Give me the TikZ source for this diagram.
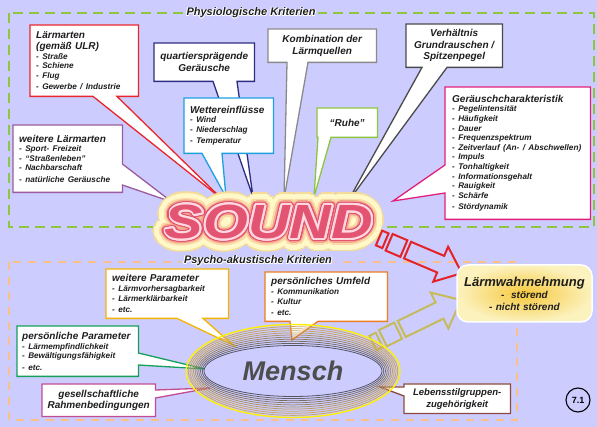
\documentclass[tikz,border=0pt]{standalone}
\usepackage{fontspec}
\setmainfont{Liberation Sans}
\usetikzlibrary{calc,shapes.geometric}
\setlength\parindent{0pt}
\definecolor{bg}{RGB}{204,204,255}
\definecolor{txt}{RGB}{30,30,30}
\definecolor{gDash}{RGB}{141,198,63}
\definecolor{oDash}{RGB}{250,192,140}
\definecolor{cRed}{RGB}{232,38,43}
\definecolor{cNavy}{RGB}{46,45,127}
\definecolor{cBlue}{RGB}{28,160,224}
\definecolor{cGray}{RGB}{138,138,138}
\definecolor{cGreen}{RGB}{140,198,63}
\definecolor{cDark}{RGB}{74,74,74}
\definecolor{cMag}{RGB}{226,32,124}
\definecolor{cPurp}{RGB}{155,91,158}
\definecolor{cYel}{RGB}{244,180,0}
\definecolor{cOr}{RGB}{239,125,34}
\definecolor{cGrn}{RGB}{19,160,90}
\definecolor{cPP}{RGB}{194,75,146}
\definecolor{cBrown}{RGB}{142,75,61}
\definecolor{aRed}{RGB}{228,34,40}
\definecolor{aKhaki}{RGB}{198,187,90}
\definecolor{sEdge}{RGB}{245,220,152}
\definecolor{sCream}{RGB}{255,248,200}
\definecolor{sPeachA}{RGB}{252,217,168}
\definecolor{sPeach}{RGB}{243,165,138}
\definecolor{sPink}{RGB}{226,84,114}
\definecolor{sLight}{RGB}{255,216,224}
\definecolor{rDark}{RGB}{85,85,100}
\definecolor{rTan}{RGB}{200,165,95}
\definecolor{rYel}{RGB}{255,240,0}
\definecolor{mText}{RGB}{77,77,77}
\definecolor{lwIn}{RGB}{246,200,60}
\definecolor{lwOut}{RGB}{252,242,190}

\pgfdeclarelayer{back}
\pgfdeclarelayer{boxes}
\pgfsetlayers{back,boxes,main}

\newcommand\hdsz{\fontsize{10}{11.5}\selectfont}
\newcommand\itsz{\fontsize{8.2}{9.6}\selectfont}
\newcommand\sndtxt{\scalebox{1.2}[1]{\fontsize{48}{50}\selectfont\bfseries\itshape SOUND}}

% callout outlines: name, colour, offset a, offset b, tip
\newcommand\cB[5]{\begin{pgfonlayer}{boxes}\draw[callout=#2] (#1.north west) -- (#1.north east) -- (#1.south east) -- ([xshift=#4pt]#1.south west) -- (#5) -- ([xshift=#3pt]#1.south west) -- (#1.south west) -- cycle;\end{pgfonlayer}}
\newcommand\cR[5]{\begin{pgfonlayer}{boxes}\draw[callout=#2] (#1.north west) -- (#1.north east) -- ([yshift=-#3pt]#1.north east) -- (#5) -- ([yshift=-#4pt]#1.north east) -- (#1.south east) -- (#1.south west) -- cycle;\end{pgfonlayer}}
\newcommand\cL[5]{\begin{pgfonlayer}{boxes}\draw[callout=#2] (#1.north west) -- (#1.north east) -- (#1.south east) -- (#1.south west) -- ([yshift=-#4pt]#1.north west) -- (#5) -- ([yshift=-#3pt]#1.north west) -- cycle;\end{pgfonlayer}}

\newcommand\halotitle[3]{%
  \node[ttl, fill=bg, text=bg] (#1) at #2 {#3};
  \foreach \a in {0,45,...,315} \node[ttl, text=white] at ($(#1)+(\a:0.8)$) {#3};
  \node[ttl, text=txt] (#1t) at (#1) {#3};}

\tikzset{
  cb/.style={anchor=north west, inner xsep=6pt, inner ysep=0pt, align=left,
    font=\bfseries\itshape\hdsz, text=txt},
  cc/.style={anchor=north west, inner xsep=3pt, inner ysep=0pt, align=center,
    font=\bfseries\itshape\fontsize{10}{12}\selectfont, text=txt},
  callout/.style={fill=white, draw=#1, line width=1.3pt, line join=miter},
  ttl/.style={font=\bfseries\itshape\fontsize{11}{11}\selectfont, inner xsep=3pt, inner ysep=1pt},
  bigarrow/.style={draw=#1, line width=2pt, line join=miter},
}

\begin{document}
\begin{tikzpicture}[x=1pt,y=-1pt]
\useasboundingbox (0,0) rectangle (597,427);
\begin{pgfonlayer}{back}
  \fill[bg] (0,0) rectangle (597,427);
  \draw[gDash, line width=2pt, dash pattern=on 10pt off 6pt] (9,13) rectangle (594,227);
  \draw[oDash, line width=2pt, dash pattern=on 8pt off 7pt] (9,262) rectangle (517,420);
  \halotitle{phys}{(251,13)}{Physiologische Kriterien}
  \halotitle{psy}{(258,261)}{Psycho-akustische Kriterien}
\end{pgfonlayer}

% pointer tips
\coordinate (t1) at (222,199);
\coordinate (t2) at (253,197);
\coordinate (t3) at (226,197);
\coordinate (t4) at (284,199);
\coordinate (t5) at (314,197);
\coordinate (t6) at (347,203);
\coordinate (t7) at (393,201);
\coordinate (t8) at (172,202);
\coordinate (t9) at (233,345);
\coordinate (t10) at (292,340);
\coordinate (t11) at (205,369);
\coordinate (t12) at (210,388);
\coordinate (t13) at (380,387);

% upper callouts
\node[cb, text width=96pt, minimum width=108pt, minimum height=71pt] (b1) at (30,25)
  {Lärmarten\\(gemäß ULR)\par\itsz - Straße\\- Schiene\\- Flug\\- Gewerbe / Industrie};
\cB{b1}{cRed}{63}{87}{t1}
\node[cc, minimum width=100pt, minimum height=38pt] (b2) at (154,43) {quartiersprägende\\Geräusche};
\cB{b2}{cNavy}{59}{83}{t2}
\node[cb, text width=77pt, minimum width=89pt, minimum height=55pt] (b3) at (184,98)
  {Wettereinflüsse\par\itsz - Wind\\- Niederschlag\\- Temperatur};
\cB{b3}{cBlue}{18}{38}{t3}
\node[cc, minimum width=108pt, minimum height=33pt] (b4) at (268,29) {Kombination der\\Lärmquellen};
\cB{b4}{cGray}{19}{40}{t4}
\node[cc, minimum width=60pt, minimum height=29pt] (b5) at (317,108) {“Ruhe”};
\cB{b5}{cGreen}{1}{14}{t5}
\node[cc, minimum width=96pt, minimum height=43pt, font=\bfseries\itshape\fontsize{10}{11.5}\selectfont] (b6) at (406,24) {Verhältnis\\Grundrauschen /\\Spitzenpegel};
\cB{b6}{cDark}{16}{41}{t6}
\node[cb, inner xsep=7pt, text width=131pt, minimum width=145pt, minimum height=132pt] (b7) at (445,87)
  {Geräuschcharakteristik\par\itsz - Pegelintensität\\- Häufigkeit\\- Dauer\\- Frequenzspektrum\\- Zeitverlauf (An- / Abschwellen)\\- Impuls\\- Tonhaltigkeit\\- Informationsgehalt\\- Rauigkeit\\- Schärfe\\- Stördynamik};
\cL{b7}{cMag}{78}{106}{t7}
\node[cb, text width=97pt, minimum width=109pt, minimum height=67pt] (b8) at (13,125)
  {weitere Lärmarten\par\itsz - Sport- Freizeit\\- “Straßenleben”\\- Nachbarschaft\\- natürliche Geräusche};
\cR{b8}{cPurp}{39}{60}{t8}

% lower callouts
\node[cb, text width=110pt, minimum width=122pt, minimum height=49pt] (b9) at (106,269)
  {weitere Parameter\par\itsz - Lärmvorhersagbarkeit\\- Lärmerklärbarkeit\\- etc.};
\cB{b9}{cYel}{71}{97}{t9}
\node[cb, text width=110pt, minimum width=122pt, minimum height=49pt] (b10) at (265,272)
  {persönliches Umfeld\par\itsz - Kommunikation\\- Kultur\\- etc.};
\cB{b10}{cOr}{25}{53}{t10}
\node[cb, inner xsep=5pt, text width=111pt, minimum width=121pt, minimum height=50pt] (b11) at (17,326)
  {persönliche Parameter\par\itsz - Lärmempfindlichkeit\\- Bewältigungsfähigkeit\\- etc.};
\cR{b11}{cGrn}{27}{39}{t11}
\node[cc, minimum width=113pt, minimum height=32pt, font=\bfseries\itshape\fontsize{10}{11.5}\selectfont] (b12) at (42,384) {gesellschaftliche\\Rahmenbedingungen};
\cR{b12}{cPP}{6}{14}{t12}
\node[cc, minimum width=106pt, minimum height=29pt, font=\bfseries\itshape\fontsize{9.5}{12}\selectfont] (b13) at (404,384) {Lebensstilgruppen-\\zugehörigkeit};
\cL{b13}{cBrown}{3}{12}{t13}

% SOUND cloud
\coordinate (snd) at (269,222);
\foreach \r/\c in {13/sEdge,11.5/sCream,9/sCream,6.5/sPeachA,4.6/sPeach,3.2/sPink,1.9/sLight}{
  \foreach \a in {0,15,...,345}
    \node[inner sep=0pt, text=\c] at ($(snd)+(\a:\r)$) {\sndtxt};
}
\node[inner sep=0pt, text=sPink] (sound) at (snd) {\sndtxt};

% big arrows
\begin{scope}[shift={(379,238)}, rotate=-23]
  \draw[bigarrow=aRed] (0,-8) rectangle (7,8);
  \draw[bigarrow=aRed] (11,-9) rectangle (27,9);
  \draw[bigarrow=aRed] (31,-9) -- (67,-9) -- (67,-19) -- (90,0) -- (67,19) -- (67,9) -- (31,9) -- cycle;
\end{scope}
\begin{scope}[shift={(373,343)}, rotate=26]
  \draw[bigarrow=aKhaki] (0,-8) rectangle (7,8);
  \draw[bigarrow=aKhaki] (11,-9) rectangle (28,9);
  \draw[bigarrow=aKhaki] (32,-9) -- (74,-9) -- (74,-20) -- (98,0) -- (74,20) -- (74,9) -- (32,9) -- cycle;
\end{scope}

% Mensch
\coordinate (mc) at (293,371);
\foreach \i in {1,...,9}{
  \pgfmathtruncatemacro\p{max(0,100-\i*15)}
  \draw[line width=0.75pt, rDark!\p!rTan] (mc) ellipse [x radius={89+1.75*\i}, y radius={25.5+2.1*\i}];
}
\draw[line width=1.4pt, rYel] (mc) ellipse [x radius=107, y radius=46.5];
\node[ellipse, draw=rDark, line width=0.8pt, fill=bg, minimum width=178pt, minimum height=51pt,
  inner sep=0pt, text=mText, font=\bfseries\itshape\fontsize{27}{27}\selectfont] (mensch) at (mc) {Mensch};

% Laermwahrnehmung
\node[rounded corners=11pt, inner color=lwIn, outer color=lwOut, draw=white, line width=1.5pt,
  minimum width=135pt, minimum height=57pt, text width=129pt, inner xsep=3pt, align=center,
  font=\bfseries\itshape, text=txt] (lw) at (524.5,293.5)
  {\fontsize{13}{15}\selectfont Lärmwahrnehmung\par\fontsize{10}{12}\selectfont -\ \ störend\\- nicht störend};

% number
\node[circle, draw=black, line width=1.1pt, minimum size=24pt, inner sep=0pt,
  font=\bfseries\fontsize{9}{9}\selectfont] (num) at (578,400) {7.1};
\end{tikzpicture}
\end{document}
